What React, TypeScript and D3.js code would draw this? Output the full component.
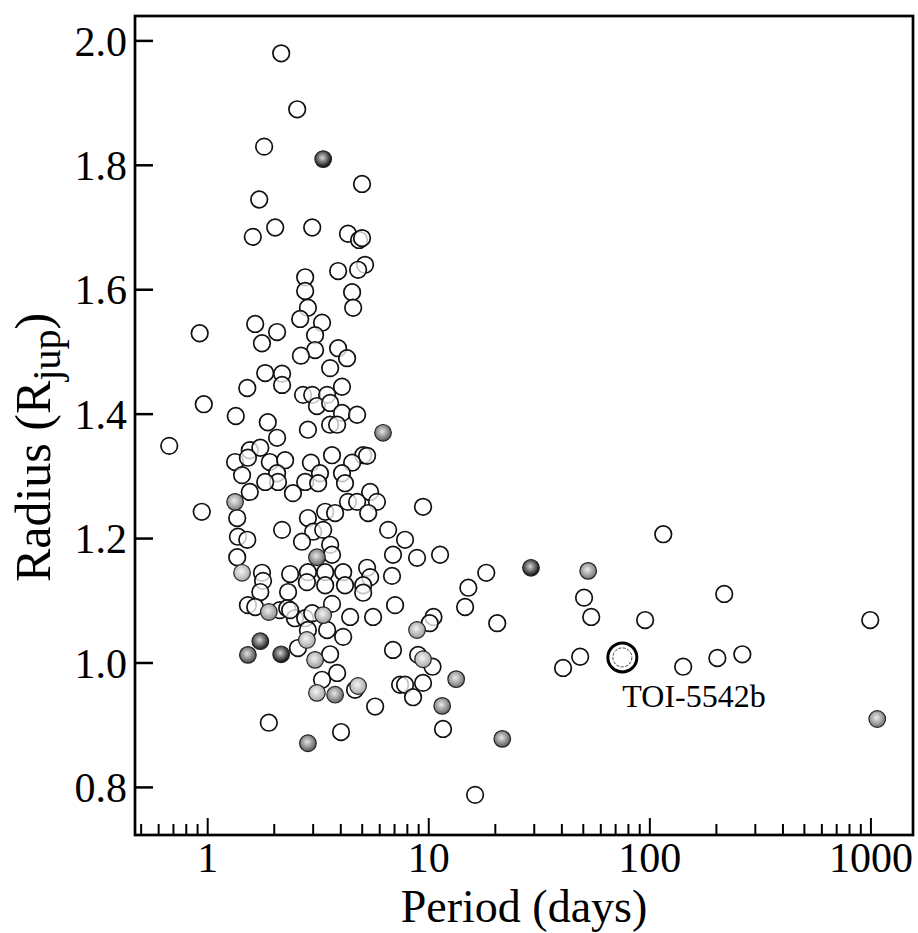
import React, { useEffect, useRef } from "react";
import * as d3 from "d3";

// open markers: [period (days), radius (R_jup)]
const openPlanets: [number, number][] = [
  [2.15, 1.98], [2.54, 1.89], [1.8, 1.83], [4.99, 1.77], [1.71, 1.745],
  [2.02, 1.7], [2.97, 1.7], [1.6, 1.685], [4.31, 1.69], [4.84, 1.68],
  [4.99, 1.683], [5.15, 1.64], [3.89, 1.63], [4.79, 1.632], [2.76, 1.62],
  [2.76, 1.598], [4.5, 1.596], [2.84, 1.571], [4.55, 1.571], [2.62, 1.553],
  [3.29, 1.547], [1.64, 1.545], [2.06, 1.532], [0.92, 1.53], [1.76, 1.514],
  [3.06, 1.527], [3.89, 1.506], [3.06, 1.503], [2.64, 1.494], [4.27, 1.49],
  [3.58, 1.474], [1.82, 1.466], [2.17, 1.465], [2.17, 1.447], [1.51, 1.442],
  [4.05, 1.444], [2.7, 1.431], [2.97, 1.431], [3.47, 1.431], [3.12, 1.413],
  [3.58, 1.418], [0.96, 1.416], [4.05, 1.402], [4.74, 1.399], [1.34, 1.397],
  [1.87, 1.387], [2.84, 1.375], [3.58, 1.383], [3.85, 1.383], [2.06, 1.362],
  [0.67, 1.349], [1.55, 1.342], [1.73, 1.346], [1.33, 1.323], [1.52, 1.33],
  [3.65, 1.334], [5.05, 1.334], [5.26, 1.333], [1.91, 1.323], [2.24, 1.326],
  [2.93, 1.322], [4.5, 1.322], [1.43, 1.302], [2.06, 1.305], [3.22, 1.305],
  [4.05, 1.305], [2.08, 1.291], [1.82, 1.291], [2.76, 1.291], [3.16, 1.289],
  [4.18, 1.289], [1.55, 1.275], [2.43, 1.273], [5.43, 1.275], [5.83, 1.259],
  [4.31, 1.259], [4.74, 1.259], [9.42, 1.251], [0.94, 1.243], [5.32, 1.241],
  [3.4, 1.243], [3.77, 1.241], [1.36, 1.233], [2.84, 1.233], [2.17, 1.214],
  [3.0, 1.211], [3.33, 1.214], [6.55, 1.214], [1.37, 1.203], [1.51, 1.198],
  [2.67, 1.195], [7.81, 1.198], [3.58, 1.19], [1.36, 1.17], [3.65, 1.174],
  [6.89, 1.174], [8.85, 1.169], [11.25, 1.174], [1.76, 1.145], [1.78, 1.132],
  [2.36, 1.143], [2.84, 1.146], [3.4, 1.146], [4.1, 1.146], [5.26, 1.153],
  [5.43, 1.138], [6.82, 1.14], [3.4, 1.125], [4.18, 1.125], [5.05, 1.125],
  [5.05, 1.113], [1.73, 1.114], [2.31, 1.114], [2.81, 1.13], [18.2, 1.145],
  [15.1, 1.121], [3.65, 1.095], [7.04, 1.093], [14.6, 1.09], [50.4, 1.105],
  [217, 1.111], [115, 1.207], [1.52, 1.093], [1.64, 1.09], [2.12, 1.085],
  [2.29, 1.088], [2.48, 1.072], [2.76, 1.072], [2.97, 1.08], [4.41, 1.074],
  [5.6, 1.074], [10.5, 1.074], [54.3, 1.074], [95.2, 1.069], [993, 1.069],
  [10.1, 1.064], [20.4, 1.064], [2.84, 1.053], [3.47, 1.053], [4.1, 1.042],
  [2.56, 1.024], [3.58, 1.014], [6.89, 1.021], [8.95, 1.013], [10.4, 0.994],
  [48.4, 1.01], [40.5, 0.992], [141.5, 0.994], [202, 1.008], [262, 1.014],
  [3.85, 0.984], [3.29, 0.973], [7.42, 0.965], [7.81, 0.965], [9.42, 0.968],
  [4.64, 0.957], [8.49, 0.945], [5.72, 0.93], [1.89, 0.904], [11.6, 0.894],
  [4.01, 0.889], [16.2, 0.788], [2.36, 1.085],
];

// shaded markers: [period (days), radius (R_jup), grey level 0..1]
const shadedPlanets: [number, number, number][] = [
  [3.33, 1.81, 0.85], [6.21, 1.37, 0.6], [1.33, 1.259, 0.45], [3.12, 1.17, 0.55],
  [1.43, 1.145, 0.3], [29.0, 1.153, 0.85], [52.6, 1.148, 0.5], [1.89, 1.082, 0.4],
  [3.33, 1.077, 0.35], [8.85, 1.053, 0.35], [2.81, 1.037, 0.3], [1.73, 1.035, 0.8],
  [1.52, 1.013, 0.65], [2.15, 1.014, 0.9], [3.06, 1.005, 0.35], [9.42, 1.006, 0.3],
  [13.3, 0.974, 0.5], [4.79, 0.963, 0.3], [3.12, 0.952, 0.3], [3.77, 0.949, 0.55],
  [11.5, 0.931, 0.55], [1068, 0.91, 0.5], [21.5, 0.878, 0.6], [2.84, 0.871, 0.6],
];

const targetName = "TOI-5542b";
const targetPeriod = 75.1;
const targetRadius = 1.009;

const xMajorTicks = [1, 10, 100, 1000];
const yTicks = [0.8, 1.0, 1.2, 1.4, 1.6, 1.8, 2.0];

const width = 918;
const height = 933;
const plot = { left: 135, right: 913, top: 16, bottom: 835 };
const font = "'Liberation Serif', 'Times New Roman', serif";

const App = () => {
  const svgRef = useRef<SVGSVGElement>(null);

  useEffect(() => {
    const svg = d3.select(svgRef.current);
    svg.selectAll("*").remove();

    const x = d3.scaleLog().domain([0.469, 1550]).range([plot.left, plot.right]);
    const y = d3.scaleLinear().domain([0.7235, 2.04]).range([plot.bottom, plot.top]);

    // gradients for the shaded markers
    const defs = svg.append("defs");
    shadedPlanets.forEach((d, i) => {
      const g = defs
        .append("radialGradient")
        .attr("id", `shade-${i}`)
        .attr("cx", "45%")
        .attr("cy", "42%")
        .attr("r", "60%");
      g.append("stop").attr("offset", "0%").attr("stop-color", d3.interpolateGreys(d[2] * 0.3));
      g.append("stop").attr("offset", "100%").attr("stop-color", d3.interpolateGreys(Math.min(1, d[2] + 0.15)));
    });

    // minor ticks on the log axis
    const minor: number[] = [];
    for (let e = -1; e <= 3; e++) {
      for (let k = 2; k <= 9; k++) {
        const v = k * Math.pow(10, e);
        if (v > 0.469 && v < 1550) minor.push(v);
      }
    }

    const axes = svg.append("g").attr("stroke", "#000").attr("fill", "none");
    axes
      .selectAll(".minor")
      .data(minor)
      .join("line")
      .attr("x1", (d) => x(d))
      .attr("x2", (d) => x(d))
      .attr("y1", plot.bottom)
      .attr("y2", plot.bottom - 11)
      .attr("stroke-width", 2);
    axes
      .selectAll(".major")
      .data(xMajorTicks)
      .join("line")
      .attr("x1", (d) => x(d))
      .attr("x2", (d) => x(d))
      .attr("y1", plot.bottom)
      .attr("y2", plot.bottom - 17)
      .attr("stroke-width", 2);
    axes
      .selectAll(".ytick")
      .data(yTicks)
      .join("line")
      .attr("x1", plot.left)
      .attr("x2", plot.left + 18)
      .attr("y1", (d) => y(d))
      .attr("y2", (d) => y(d))
      .attr("stroke-width", 2.5);

    // scatter
    const pts = svg.append("g");
    pts
      .selectAll(".open")
      .data(openPlanets)
      .join("circle")
      .attr("cx", (d) => x(d[0]))
      .attr("cy", (d) => y(d[1]))
      .attr("r", 8.3)
      .attr("fill", "#fff")
      .attr("fill-opacity", 0.75)
      .attr("stroke", "#111")
      .attr("stroke-width", 1.7);
    pts
      .selectAll(".shaded")
      .data(shadedPlanets)
      .join("circle")
      .attr("cx", (d) => x(d[0]))
      .attr("cy", (d) => y(d[1]))
      .attr("r", 8.3)
      .attr("fill", (_, i) => `url(#shade-${i})`)
      .attr("stroke", "#222")
      .attr("stroke-width", 1.2);

    // highlighted planet
    const tx = x(targetPeriod);
    const ty = y(targetRadius);
    svg.append("circle").attr("cx", tx).attr("cy", ty).attr("r", 14.5)
      .attr("fill", "#fff").attr("stroke", "#000").attr("stroke-width", 3);
    svg.append("circle").attr("cx", tx).attr("cy", ty).attr("r", 9.5)
      .attr("fill", "none").attr("stroke", "#444").attr("stroke-width", 1)
      .attr("stroke-dasharray", "3,1.5");
    svg.append("text").attr("x", tx).attr("y", ty + 50)
      .attr("font-family", font).attr("font-size", 32).text(targetName);

    // frame
    svg.append("rect")
      .attr("x", plot.left).attr("y", plot.top)
      .attr("width", plot.right - plot.left).attr("height", plot.bottom - plot.top)
      .attr("fill", "none").attr("stroke", "#000").attr("stroke-width", 2.7);

    // tick labels
    svg.append("g").selectAll("text").data(xMajorTicks).join("text")
      .attr("x", (d) => x(d)).attr("y", plot.bottom + 37)
      .attr("text-anchor", "middle").attr("font-family", font).attr("font-size", 42)
      .text((d) => String(d));
    svg.append("g").selectAll("text").data(yTicks).join("text")
      .attr("x", plot.left - 8).attr("y", (d) => y(d)).attr("dy", "0.35em")
      .attr("text-anchor", "end").attr("font-family", font).attr("font-size", 42)
      .text((d) => d3.format(".1f")(d));

    // axis titles
    svg.append("text")
      .attr("x", (plot.left + plot.right) / 2).attr("y", 922)
      .attr("text-anchor", "middle").attr("font-family", font).attr("font-size", 46)
      .text("Period (days)");
    const yl = svg.append("text")
      .attr("transform", `translate(50, ${(plot.top + plot.bottom) / 2 + 22}) rotate(-90)`)
      .attr("text-anchor", "middle").attr("font-family", font).attr("font-size", 50);
    yl.append("tspan").text("Radius (R");
    yl.append("tspan").attr("font-size", 40).attr("dy", 10).text("jup");
    yl.append("tspan").attr("dy", -10).text(")");
  }, []);

  return (
    <svg
      ref={svgRef}
      width={width}
      height={height}
      style={{ position: "absolute", left: 0, top: 0, background: "#fff" }}
    />
  );
};

export default App;
